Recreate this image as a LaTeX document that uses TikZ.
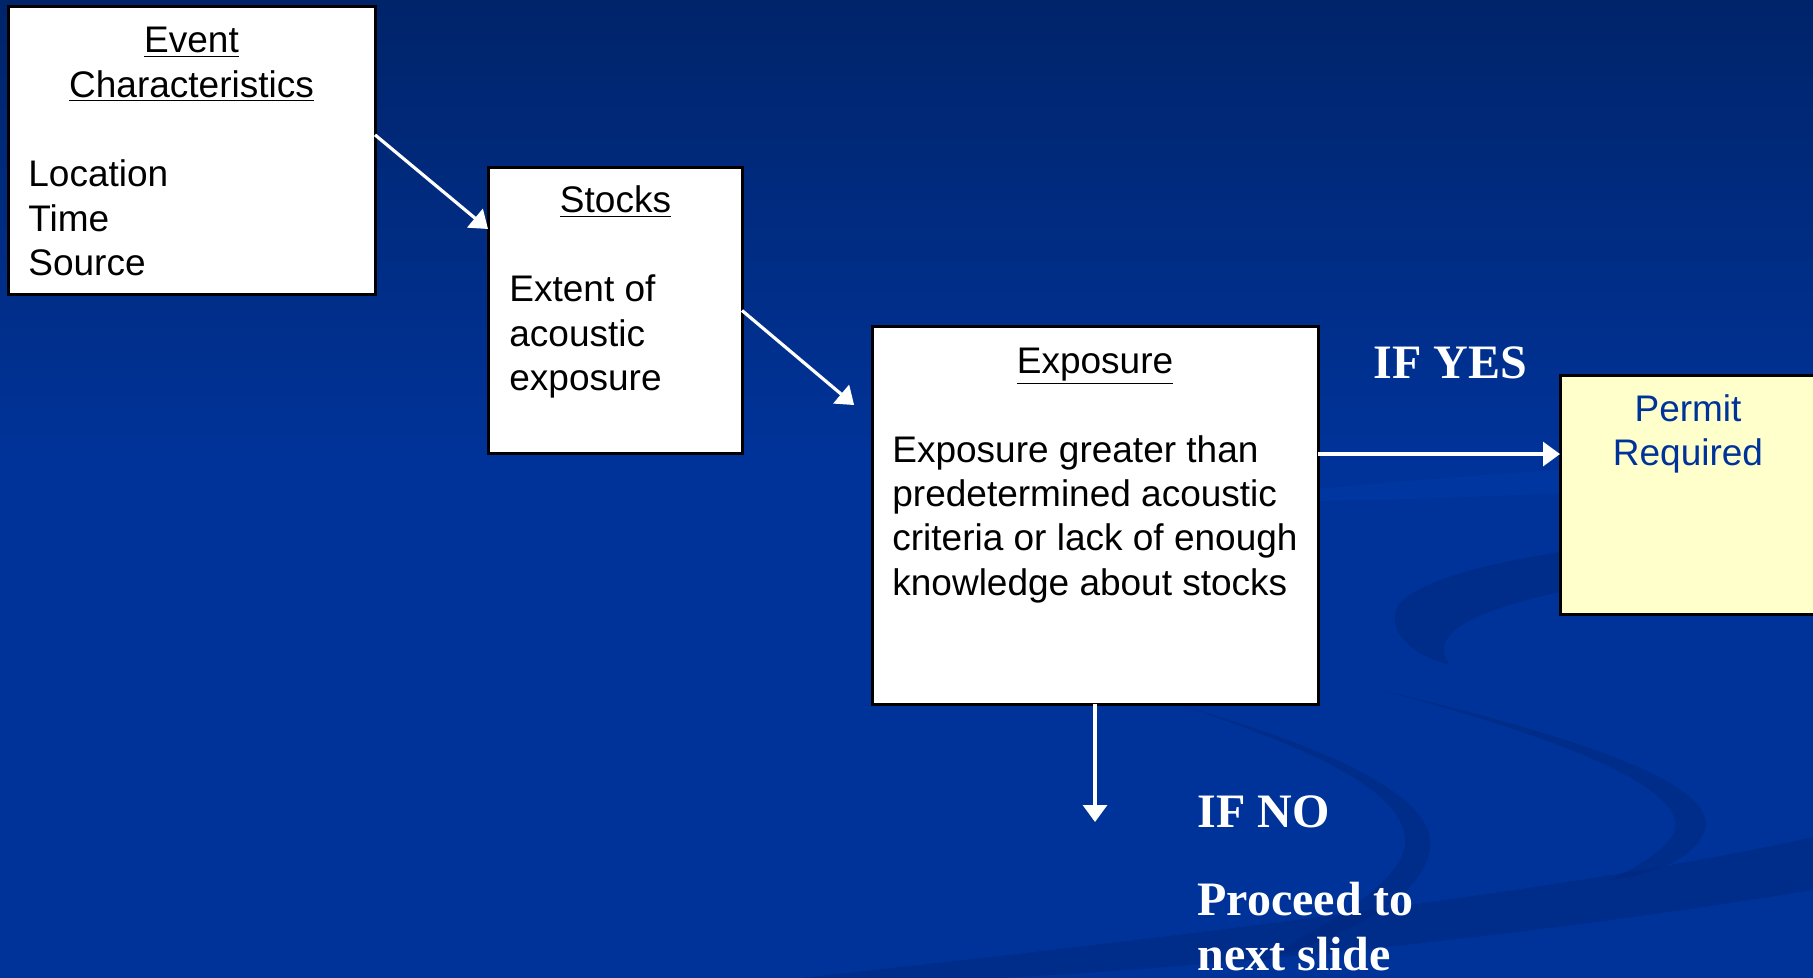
\documentclass[tikz,border=0pt]{standalone}
\usepackage{fontspec}
\usetikzlibrary{arrows.meta,calc}
\newfontfamily\sansA{Liberation Sans}
\newfontfamily\serifA{Liberation Serif}
\definecolor{bgtop}{RGB}{0,36,106}
\definecolor{bgmain}{RGB}{0,51,153}
\definecolor{swdark}{RGB}{0,40,128}
\definecolor{swlight}{RGB}{0,58,165}
\definecolor{permitfill}{RGB}{255,255,204}
\definecolor{permittext}{RGB}{0,51,153}
\tikzset{
  box/.style={draw=black, line width=1.5pt, fill=white, inner sep=0pt, outer sep=0pt},
  btxt/.style={font=\sansA\fontsize{18.5}{22.2}\selectfont, inner sep=0pt, align=left, anchor=base west},
  ttl/.style={font=\sansA\fontsize{18.5}{22.2}\selectfont, inner sep=0pt, align=center, anchor=base},
  wtxt/.style={font=\serifA\bfseries\fontsize{24}{27.5}\selectfont, text=white, inner sep=0pt, align=left, anchor=base west},
  arr/.style={draw=white, line width=1.6pt, -{Triangle[length=8.5pt,width=12pt]}},
  swoosh/.style={fill=swdark, opacity=0.6, draw=none}
}
\begin{document}
\begin{tikzpicture}[x=0.5pt,y=-0.5pt]
\useasboundingbox (0,0) rectangle (1813,978);
\clip (0,0) rectangle (1813,978);
% background
\fill[bgmain] (0,0) rectangle (1813,978);
\shade[top color=bgtop, bottom color=bgmain] (0,0) rectangle (1813,460);
% swooshes
\fill[swlight, opacity=0.5] (1200,500) .. controls (1400,480) and (1600,465) .. (1813,455) -- (1813,480) .. controls (1600,490) and (1400,505) .. (1200,500) -- cycle;
\path[swoosh] (1813,525) .. controls (1600,540) and (1430,565) .. (1398,605) .. controls (1385,630) and (1410,655) .. (1450,665) .. controls (1430,640) and (1455,615) .. (1560,592) -- (1813,560) -- cycle;
\path[swoosh] (1180,705) .. controls (1300,740) and (1440,790) .. (1430,850) .. controls (1420,900) and (1350,935) .. (1250,965) .. controls (1340,920) and (1400,880) .. (1405,845) .. controls (1410,790) and (1300,745) .. (1180,705) -- cycle;
\path[swoosh] (1380,690) .. controls (1550,730) and (1720,780) .. (1705,830) .. controls (1695,860) and (1650,875) .. (1610,880) .. controls (1650,860) and (1680,840) .. (1675,820) .. controls (1665,780) and (1550,735) .. (1380,690) -- cycle;
\path[swoosh] (800,978) .. controls (1200,935) and (1600,885) .. (1813,837) -- (1813,890) .. controls (1600,925) and (1300,962) .. (1000,978) -- cycle;
% boxes
\node[box, minimum width=183.5pt, minimum height=144pt] (ev) at (191.5,151) {};
\node[box, minimum width=127pt, minimum height=142.5pt] (st) at (615,310.5) {};
\node[box, minimum width=223pt, minimum height=188.5pt] (ex) at (1095,515.5) {};
\node[box, fill=permitfill, minimum width=130pt, minimum height=119.5pt] (pm) at (1690,494.5) {};
% texts (multi-line nodes are placed by the baseline of their last line)
\node[ttl] (evt) at (191.5,97.4) {\underline{Event}\\\underline{Characteristics}};
\node[btxt] (evb) at (28,275.8) {Location\\Time\\Source};
\node[ttl] (stt) at (615.5,213) {\underline{Stocks}};
\node[btxt] (stb) at (509,390.8) {Extent of\\acoustic\\exposure};
\node[ttl] (ext) at (1095,373) {\underline{Exposure}};
\node[btxt] (exb) at (892,595.2) {Exposure greater than\\predetermined acoustic\\criteria or lack of enough\\knowledge about stocks};
\node[ttl, text=permittext] (pmt) at (1688,465.4) {Permit\\Required};
\node[wtxt] (yes) at (1373,379) {IF YES};
\node[wtxt] (no) at (1197,827) {IF NO};
\node[wtxt] (proc) at (1197,970) {Proceed to\\next slide};
% connectors
\coordinate (a1s) at ($(ev.north east)!0.444!(ev.south east)$);
\coordinate (a1e) at ($(st.north west)!0.214!(st.south west)$);
\draw[arr] (a1s) -- (a1e);
\coordinate (a2e) at ($(ex.north west)!0.247!(ex.south west)$);
\draw[arr, shorten >=11.7pt] (st.east) -- (a2e);
\coordinate (a3) at ($(ex.north east)!0.337!(ex.south east)$);
\draw[arr] (a3) -- (a3 -| pm.west);
\coordinate (e4) at (1095,822);
\draw[arr] (ex.south) -- (e4);
\end{tikzpicture}
\end{document}
